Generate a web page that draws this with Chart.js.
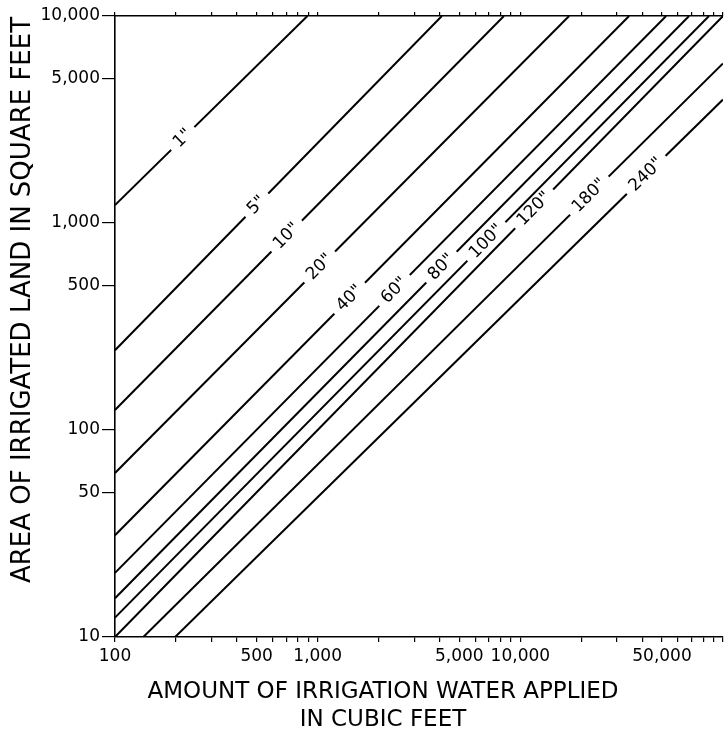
<!DOCTYPE html>
<html>
<head>
<meta charset="utf-8">
<title>Irrigation depth chart</title>
<script src="https://cdn.jsdelivr.net/npm/chart.js@4.4.1/dist/chart.umd.min.js"></script>
<style>
  html, body { margin: 0; padding: 0; background: #fff; }
  #wrap { width: 727px; height: 738px; }
</style>
</head>
<body>
<div id="wrap"><canvas id="myChart" width="727" height="738"></canvas></div>
<script>
// depth of water applied, one line per depth
const depthLabels = ['1"', '5"', '10"', '20"', '40"', '60"', '80"', '100"', '120"', '180"', '240"'];
const startVolume = [100, 100, 100, 100, 100, 100, 100, 100, 100, 138, 198];
const startArea = [1220, 243, 125, 62, 31, 20.4, 15.4, 12.4, 10, 10, 10];
const endVolume = [890, 4100, 8300, 17400, 34400, 52400, 68000, 85300, 100000, 100000, 100000];
const endArea = [10000, 10000, 10000, 10000, 10000, 10000, 10000, 10000, 10000, 5900, 3950];
// where along each line its label sits (cubic feet)
const labelVolume = [216, 501, 703, 1023, 1438, 2395, 4080, 6800, 11700, 21900, 41800];

const xTickValues = [100, 200, 300, 400, 500, 600, 700, 800, 900,
  1000, 2000, 3000, 4000, 5000, 6000, 7000, 8000, 9000,
  10000, 20000, 30000, 40000, 50000, 60000, 70000, 80000, 90000, 100000];
const xTickLabels = [100, 500, 1000, 5000, 10000, 50000];
const yTickValues = [10, 20, 30, 40, 50, 60, 70, 80, 90,
  100, 200, 300, 400, 500, 600, 700, 800, 900,
  1000, 2000, 3000, 4000, 5000, 6000, 7000, 8000, 9000, 10000];
const yTickLabels = [10, 50, 100, 500, 1000, 5000, 10000];

const FONT = "'DejaVu Sans', sans-serif";

const fmt = (v) => v.toLocaleString('en-US');

const lineLabels = {
  id: 'lineLabels',
  afterDatasetsDraw(chart) {
    const ctx = chart.ctx;
    const xs = chart.scales.x;
    const ys = chart.scales.y;
    ctx.save();
    ctx.font = '17px ' + FONT;
    ctx.textAlign = 'center';
    ctx.textBaseline = 'middle';
    depthLabels.forEach((text, i) => {
      const x1 = xs.getPixelForValue(startVolume[i]);
      const y1 = ys.getPixelForValue(startArea[i]);
      const x2 = xs.getPixelForValue(endVolume[i]);
      const y2 = ys.getPixelForValue(endArea[i]);
      const px = xs.getPixelForValue(labelVolume[i]);
      const t = (px - x1) / (x2 - x1);
      const py = y1 + t * (y2 - y1);
      const angle = Math.atan2(y2 - y1, x2 - x1);
      const w = ctx.measureText(text).width;
      ctx.save();
      ctx.translate(px, py);
      ctx.rotate(angle);
      ctx.fillStyle = '#fff';
      ctx.fillRect(-w / 2 - 7, -5, w + 14, 10);
      ctx.fillStyle = '#000';
      ctx.fillText(text, 0, 0);
      ctx.restore();
    });
    ctx.restore();
  }
};

const axisTitles = {
  id: 'axisTitles',
  afterDraw(chart) {
    const ctx = chart.ctx;
    ctx.save();
    ctx.fillStyle = '#000';
    ctx.textAlign = 'center';
    ctx.textBaseline = 'middle';
    ctx.font = '23px ' + FONT;
    ctx.fillText('AMOUNT OF IRRIGATION WATER APPLIED', 383, 692);
    ctx.fillText('IN CUBIC FEET', 383, 720);
    ctx.translate(23, 300);
    ctx.rotate(-Math.PI / 2);
    ctx.font = '26px ' + FONT;
    ctx.fillText('AREA OF IRRIGATED LAND IN SQUARE FEET', 0, 0);
    ctx.restore();
  }
};

const datasets = depthLabels.map((label, i) => ({
  label,
  data: [{ x: startVolume[i], y: startArea[i] }, { x: endVolume[i], y: endArea[i] }],
  showLine: true,
  borderColor: '#000',
  borderWidth: 2,
  pointRadius: 0,
  fill: false
}));

const setTicks = (values) => (scale) => {
  scale.ticks = values.map((v) => ({ value: v }));
};

const context = document.getElementById('myChart');
new Chart(context, {
  type: 'scatter',
  data: { datasets },
  plugins: [lineLabels, axisTitles],
  options: {
    responsive: false,
    animation: false,
    layout: { padding: { right: 3 } },
    plugins: { legend: { display: false }, tooltip: { enabled: false } },
    scales: {
      x: {
        type: 'logarithmic', position: 'bottom', min: 100, max: 100000,
        afterBuildTicks: setTicks(xTickValues),
        afterFit: (s) => { s.height = 101; },
        ticks: {
          autoSkip: false, maxRotation: 0, color: '#000', padding: 4,
          font: { family: FONT, size: 17 },
          callback: (v) => xTickLabels.includes(v) ? fmt(v) : ''
        },
        grid: { drawOnChartArea: false, tickLength: 5, color: '#000', lineWidth: 1.2 },
        border: { color: '#000', width: 1.6 }
      },
      xTop: {
        type: 'logarithmic', position: 'top', min: 100, max: 100000,
        afterBuildTicks: setTicks(xTickValues),
        afterFit: (s) => { s.height = 16; },
        ticks: { display: false },
        grid: { drawOnChartArea: false, tickLength: 4, color: '#000', lineWidth: 1.2 },
        border: { color: '#000', width: 1.6 }
      },
      y: {
        type: 'logarithmic', position: 'left', min: 10, max: 10000,
        afterBuildTicks: setTicks(yTickLabels),
        afterFit: (s) => { s.width = 115; },
        ticks: {
          autoSkip: false, color: '#000', padding: 2,
          font: { family: FONT, size: 17 },
          callback: (v) => fmt(v)
        },
        grid: { drawOnChartArea: false, tickLength: 13, color: '#000', lineWidth: 1.2 },
        border: { color: '#000', width: 1.6 }
      },
      yMinor: {
        type: 'logarithmic', position: 'left', min: 10, max: 10000,
        afterBuildTicks: setTicks(yTickValues),
        afterFit: (s) => { s.width = 0; },
        ticks: { display: false },
        grid: { drawOnChartArea: false, tickLength: 5, color: '#000', lineWidth: 1.2 },
        border: { display: false }
      }
    }
  }
});
</script>
</body>
</html>
